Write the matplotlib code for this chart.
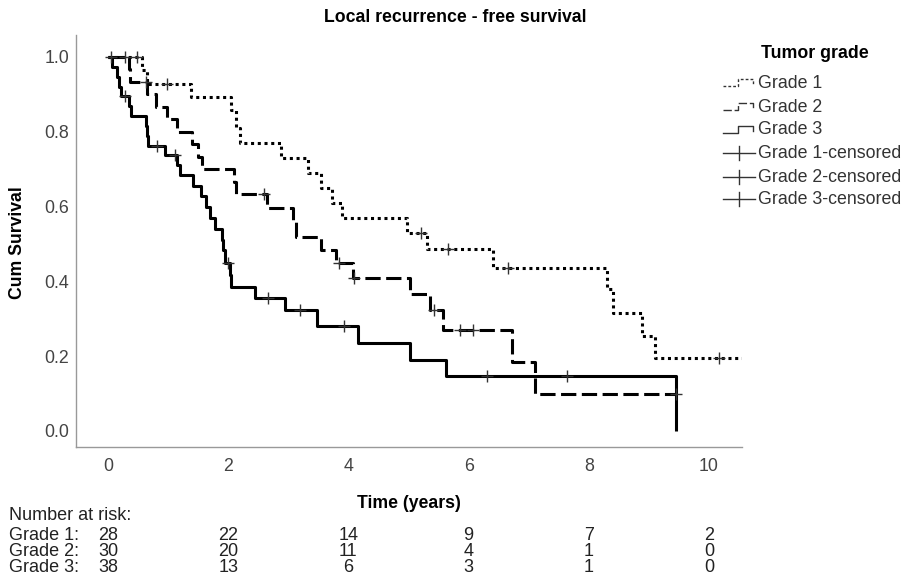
import numpy as np
import matplotlib.pyplot as plt
from matplotlib.transforms import blended_transform_factory

plt.rcParams['font.family'] = ['Liberation Sans', 'DejaVu Sans']

grades = ['Grade 1', 'Grade 2', 'Grade 3']

# Kaplan-Meier steps: event times (years) and survival after each event
g1_times = [0.57, 0.65, 1.38, 2.05, 2.13, 2.2, 2.88, 3.33, 3.55, 3.72, 3.9,
            4.98, 5.3, 6.4, 8.3, 8.4, 8.88, 9.1]
g1_surv = [0.964, 0.929, 0.893, 0.857, 0.81, 0.77, 0.73, 0.69, 0.65, 0.61, 0.57,
           0.53, 0.487, 0.436, 0.38, 0.315, 0.254, 0.195]
g1_cens = [0.48, 0.98, 5.2, 5.65, 6.65, 10.17]
g1_end = 10.6

g2_times = [0.35, 0.37, 0.65, 0.8, 0.98, 1.15, 1.4, 1.5, 1.56, 2.1, 2.13, 2.65,
            3.08, 3.13, 3.55, 3.8, 4.07, 5.02, 5.35, 5.57, 6.73, 7.1]
g2_surv = [0.967, 0.933, 0.90, 0.867, 0.835, 0.80, 0.767, 0.733, 0.70, 0.667,
           0.633, 0.597, 0.558, 0.52, 0.484, 0.449, 0.41, 0.366, 0.323, 0.27,
           0.184, 0.10]
g2_cens = [0.05, 0.28, 0.63, 2.6, 3.85, 4.1, 5.43, 5.85, 6.07, 9.45]
g2_end = 9.45

g3_times = [0.07, 0.15, 0.18, 0.22, 0.35, 0.38, 0.64, 0.65, 0.67, 0.95, 1.15,
            1.2, 1.42, 1.55, 1.63, 1.7, 1.78, 1.9, 1.92, 1.95, 2.03, 2.05, 2.45,
            2.95, 3.48, 4.16, 5.02, 5.63, 9.45]
g3_surv = [0.974, 0.947, 0.921, 0.895, 0.868, 0.842, 0.816, 0.789, 0.763, 0.737,
           0.71, 0.684, 0.655, 0.627, 0.598, 0.57, 0.541, 0.511, 0.484, 0.449,
           0.416, 0.384, 0.355, 0.323, 0.28, 0.235, 0.19, 0.146, 0.0]
g3_cens = [0.28, 0.82, 1.12, 2.0, 2.66, 3.2, 3.93, 6.3, 7.63]
g3_end = 9.45

risk_times = [0, 2, 4, 6, 8, 10]
g1_risk = [28, 22, 14, 9, 7, 2]
g2_risk = [30, 20, 11, 4, 1, 0]
g3_risk = [38, 13, 6, 3, 1, 0]

curvas = {
    'Grade 1': (g1_times, g1_surv, g1_cens, g1_end),
    'Grade 2': (g2_times, g2_surv, g2_cens, g2_end),
    'Grade 3': (g3_times, g3_surv, g3_cens, g3_end),
}
riesgo = {'Grade 1': g1_risk, 'Grade 2': g2_risk, 'Grade 3': g3_risk}

estilos = {
    'Grade 1': (0, (1, 1.2)),
    'Grade 2': (0, (5, 1.8)),
    'Grade 3': '-',
}
estilos_leyenda = {
    'Grade 1': (0, (2, 1.5)),
    'Grade 2': (0, (6, 2)),
    'Grade 3': '-',
}


def surv_at(times, surv, t):
    idx = np.searchsorted(times, t, side='right')
    return 1.0 if idx == 0 else surv[idx - 1]


fig = plt.figure(figsize=(9.09, 5.81), dpi=100)
W, H = 909, 581
ax = fig.add_axes([76 / W, 1 - 447 / H, (742 - 76) / W, (447 - 35) / H])

for g in grades:
    times, surv, cens, end = curvas[g]
    xs = [0.0] + list(times) + [end]
    ys = [1.0] + list(surv) + [surv[-1]]
    ax.step(xs, ys, where='post', color='black', lw=2.2,
            linestyle=estilos[g], dash_capstyle='butt', solid_capstyle='butt',
            zorder=2)
    cy = [surv_at(times, surv, t) for t in cens]
    ax.plot(cens, cy, linestyle='none', marker='+', ms=9, mew=1,
            color='#333333', zorder=3)

ax.set_xlim(-0.532, 10.549)
ax.set_ylim(-0.0428, 1.0588)
ax.set_xticks(risk_times)
ax.set_yticks([0.0, 0.2, 0.4, 0.6, 0.8, 1.0])
ax.set_yticklabels(['0.0', '0.2', '0.4', '0.6', '0.8', '1.0'])
ax.tick_params(length=0, labelsize=12.8, labelcolor='#444444')
ax.tick_params(axis='x', pad=8)
ax.tick_params(axis='y', pad=5)
for lado in ['top', 'right']:
    ax.spines[lado].set_visible(False)
for lado in ['left', 'bottom']:
    ax.spines[lado].set_color('#999999')
    ax.spines[lado].set_linewidth(1)

fig.text(455 / W, 1 - 18 / H, 'Local recurrence - free survival',
         ha='center', va='center', fontsize=12.7, fontweight='bold')
fig.text(18 / W, 1 - 243 / H, 'Cum Survival', rotation=90,
         ha='center', va='center', fontsize=12.7, fontweight='bold')
fig.text(409 / W, 1 - 503 / H, 'Time (years)',
         ha='center', va='center', fontsize=12.7, fontweight='bold')

# number at risk table under the x axis
trans = blended_transform_factory(ax.transData, fig.transFigure)
fig.text(9 / W, 1 - 516 / H, 'Number at risk:', ha='left', va='center',
         fontsize=13, color='#222222')
for i, g in enumerate(grades):
    yy = 1 - (535 + 16.5 * i) / H
    fig.text(9 / W, yy, g + ':', ha='left', va='center', fontsize=13,
             color='#222222')
    for t, n in zip(risk_times, riesgo[g]):
        ax.text(t, yy, str(n), transform=trans, ha='center', va='center',
                fontsize=13, color='#222222')

# legend drawn by hand in pixel space
leg = fig.add_axes([0, 0, 1, 1])
leg.set_xlim(0, W)
leg.set_ylim(H, 0)
leg.axis('off')
leg.text(815, 53, 'Tumor grade', ha='center', va='center', fontsize=12.8,
         fontweight='bold')
filas = [83, 107, 130, 153, 177, 199]
for i, g in enumerate(grades):
    c = filas[i]
    leg.plot([723, 738, 738, 753, 753], [c + 3, c + 3, c - 4, c - 4, c + 1],
             color='#333333', lw=1, linestyle=estilos_leyenda[g])
    leg.text(758, c, g, ha='left', va='center', fontsize=12.8, color='#333333')
for i, g in enumerate(grades):
    c = filas[3 + i]
    leg.plot([723, 755], [c, c], color='#333333', lw=1)
    leg.plot([739, 739], [c - 7, c + 7], color='#333333', lw=1)
    leg.text(758, c, g + '-censored', ha='left', va='center', fontsize=12.8,
             color='#333333')

plt.savefig('out.png', dpi=100)
